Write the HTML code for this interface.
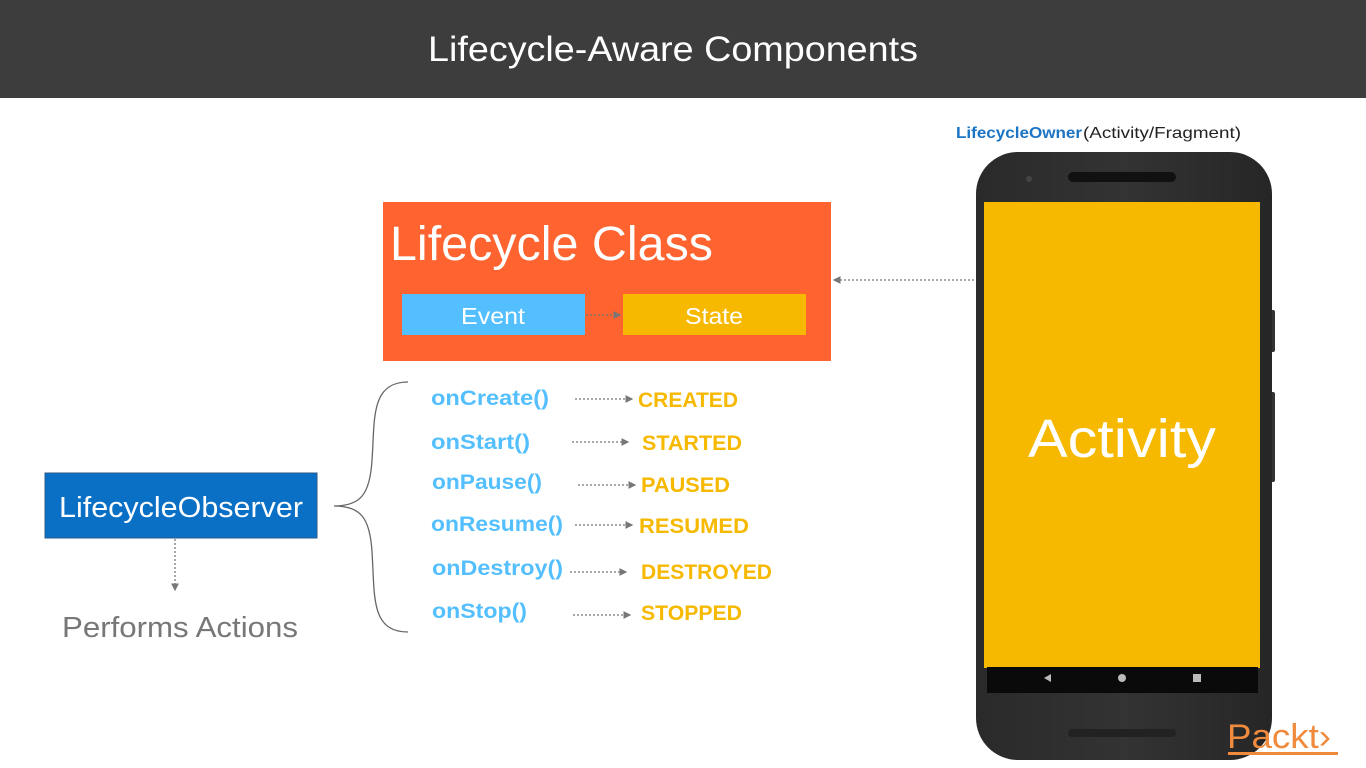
<!DOCTYPE html>
<html><head><meta charset="utf-8"><style>
html,body{margin:0;padding:0;background:#fff;}
svg{display:block}
text{font-family:"Liberation Sans",sans-serif;}
</style></head><body>
<svg width="1366" height="768" viewBox="0 0 1366 768" xmlns="http://www.w3.org/2000/svg">
<defs>
<marker id="ah" markerWidth="6" markerHeight="6" refX="5" refY="3" orient="auto"><path d="M0,0 L6,3 L0,6 z" fill="#777"/></marker>
<linearGradient id="ph" x1="0" y1="0" x2="1" y2="0"><stop offset="0" stop-color="#2a2a2a"/><stop offset="0.5" stop-color="#333"/><stop offset="1" stop-color="#262626"/></linearGradient>
</defs>
<rect x="0" y="0" width="1366" height="98" fill="#3d3d3d"/>
<text x="673" y="61" font-size="35" fill="#fff" text-anchor="middle" textLength="490" lengthAdjust="spacingAndGlyphs">Lifecycle-Aware Components</text>

<!-- LifecycleOwner label -->
<text x="956" y="138" font-size="16" fill="#1b75c4" font-weight="bold" textLength="126" lengthAdjust="spacingAndGlyphs">LifecycleOwner</text>
<text x="1083" y="138" font-size="16" fill="#222" textLength="158" lengthAdjust="spacingAndGlyphs">(Activity/Fragment)</text>

<!-- Phone -->
<rect x="1270" y="310" width="5" height="42" fill="#333" rx="2"/>
<rect x="1270" y="392" width="5" height="90" fill="#333" rx="2"/>
<rect x="976" y="152" width="296" height="608" rx="42" fill="url(#ph)"/>
<rect x="1068" y="172" width="108" height="10" rx="5" fill="#111"/>
<circle cx="1029" cy="179" r="3" fill="#444"/>
<rect x="1068" y="729" width="108" height="8" rx="4" fill="#222"/>
<rect x="984" y="202" width="276" height="466" fill="#f6b900"/>
<rect x="987" y="667" width="271" height="26" fill="#0a0a0a"/>
<path d="M1044,678 L1051,674 L1051,682 z" fill="#bbb"/>
<circle cx="1122" cy="678" r="4" fill="#bbb"/>
<rect x="1193" y="674" width="8" height="8" fill="#bbb"/>
<text x="1122" y="457" font-size="54" fill="#fff" text-anchor="middle" textLength="188" lengthAdjust="spacingAndGlyphs">Activity</text>

<!-- Packt -->
<text x="1227" y="748" font-size="34" fill="#f08a3c" textLength="104" lengthAdjust="spacingAndGlyphs">Packt›</text>
<rect x="1228" y="752" width="110" height="3" fill="#f08a3c"/>

<!-- Lifecycle class box -->
<rect x="383" y="202" width="448" height="159" fill="#fe6330"/>
<text x="390" y="260" font-size="48" fill="#fff" textLength="323" lengthAdjust="spacingAndGlyphs">Lifecycle Class</text>
<rect x="402" y="294" width="183" height="41" fill="#54bffe"/>
<text x="493" y="324" font-size="23" fill="#fff" text-anchor="middle" textLength="64" lengthAdjust="spacingAndGlyphs">Event</text>
<rect x="623" y="294" width="183" height="41" fill="#f6b900"/>
<text x="714" y="324" font-size="23" fill="#fff" text-anchor="middle" textLength="58" lengthAdjust="spacingAndGlyphs">State</text>
<line x1="586" y1="315" x2="620" y2="315" stroke="#777" stroke-width="1.3" stroke-dasharray="2,2" marker-end="url(#ah)"/>
<line x1="974" y1="280" x2="834" y2="280" stroke="#777" stroke-width="1.3" stroke-dasharray="2,2" marker-end="url(#ah)"/>

<!-- Observer -->
<rect x="45" y="473" width="272" height="65" fill="#0a70c6" stroke="#2a5a8a" stroke-width="1"/>
<text x="181" y="517" font-size="29" fill="#fff" text-anchor="middle" textLength="244" lengthAdjust="spacingAndGlyphs">LifecycleObserver</text>
<line x1="175" y1="539" x2="175" y2="590" stroke="#777" stroke-width="1.3" stroke-dasharray="2,2" marker-end="url(#ah)"/>
<text x="180" y="637" font-size="29" fill="#777" text-anchor="middle" textLength="236" lengthAdjust="spacingAndGlyphs">Performs Actions</text>

<!-- brace -->
<path d="M408,382 C370,382 375,420 372,460 C370,495 360,506 334,506 C360,506 370,517 372,552 C375,595 370,632 408,632" fill="none" stroke="#666" stroke-width="1.3"/>

<g font-weight="bold" font-size="21">
<text x="431" y="405" fill="#54bffe" textLength="118" lengthAdjust="spacingAndGlyphs">onCreate()</text>
<text x="431" y="449" fill="#54bffe" textLength="99" lengthAdjust="spacingAndGlyphs">onStart()</text>
<text x="432" y="489" fill="#54bffe" textLength="110" lengthAdjust="spacingAndGlyphs">onPause()</text>
<text x="431" y="531" fill="#54bffe" textLength="132" lengthAdjust="spacingAndGlyphs">onResume()</text>
<text x="432" y="575" fill="#54bffe" textLength="131" lengthAdjust="spacingAndGlyphs">onDestroy()</text>
<text x="432" y="618" fill="#54bffe" textLength="95" lengthAdjust="spacingAndGlyphs">onStop()</text>

<text x="638" y="407" fill="#f6b900" textLength="100" lengthAdjust="spacingAndGlyphs">CREATED</text>
<text x="642" y="450" fill="#f6b900" textLength="100" lengthAdjust="spacingAndGlyphs">STARTED</text>
<text x="641" y="492" fill="#f6b900" textLength="89" lengthAdjust="spacingAndGlyphs">PAUSED</text>
<text x="639" y="533" fill="#f6b900" textLength="110" lengthAdjust="spacingAndGlyphs">RESUMED</text>
<text x="641" y="579" fill="#f6b900" textLength="131" lengthAdjust="spacingAndGlyphs">DESTROYED</text>
<text x="641" y="620" fill="#f6b900" textLength="101" lengthAdjust="spacingAndGlyphs">STOPPED</text>
</g>
<g stroke="#777" stroke-width="1.3" stroke-dasharray="2,2" marker-end="url(#ah)">
<line x1="575" y1="399" x2="632" y2="399"/>
<line x1="572" y1="442" x2="628" y2="442"/>
<line x1="578" y1="485" x2="635" y2="485"/>
<line x1="575" y1="525" x2="632" y2="525"/>
<line x1="570" y1="572" x2="626" y2="572"/>
<line x1="573" y1="615" x2="630" y2="615"/>
</g>
</svg>
</body></html>
